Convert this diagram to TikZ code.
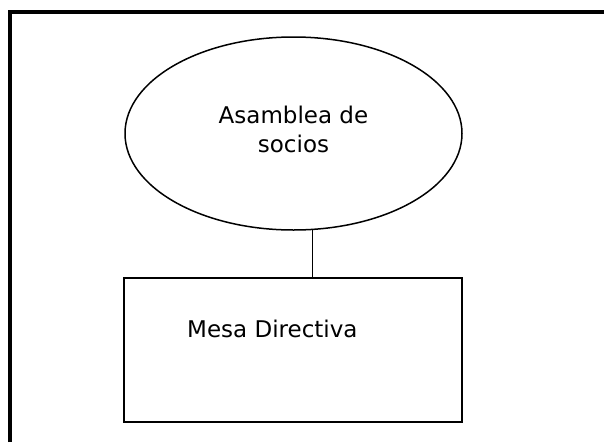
\documentclass[tikz,border=0pt]{standalone}
\usepackage{fontspec}
\setmainfont{DejaVu Sans}
\usepackage{tikz}
\usetikzlibrary{calc, positioning, shapes.geometric}
\tikzset{
  font=\fontsize{23}{29}\selectfont,
  % General node
  bnode/.style={draw, fill=white, inner sep=0pt, align=center},
  % Ellipse node
  enode/.style={bnode, shape=ellipse, line width=1.5pt,
    minimum width=337pt, minimum height=193pt},
  % Rectangle node
  rnode/.style={bnode, shape=rectangle, line width=2pt,
    minimum width=338pt, minimum height=144pt},
  % Connector
  link/.style={line width=1.5pt},
  % Page frame
  frame/.style={line width=3.3pt},
}
\begin{document}
\begin{tikzpicture}[x=1pt, y=-1pt]
  \useasboundingbox (0,0) rectangle (604,442);

  % frame, open to the right and below
  \draw[frame] (10,442) -- (10,12) -- (604,12);

  \node[enode] (asm) at (293.5,133.5) {Asamblea de\\socios\strut};
  \node[rnode] (mesa) at (293,350) {};
  \node[anchor=base west, inner sep=0pt] (mesatxt)
    at ([shift={(64pt,-60pt)}]mesa.north west) {Mesa Directiva};

  \draw[link] (asm.-79) -- (asm.-79 |- mesa.north);
\end{tikzpicture}
\end{document}
